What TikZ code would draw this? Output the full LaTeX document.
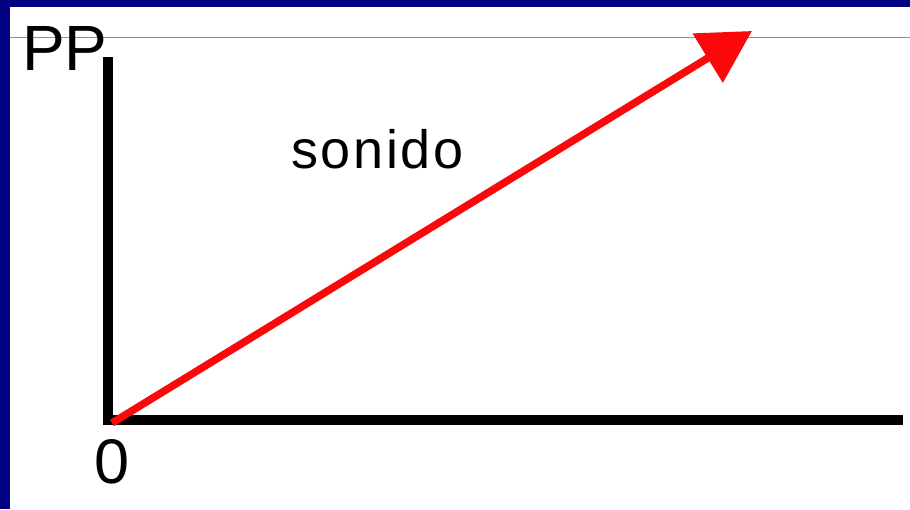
\documentclass[tikz,border=0pt]{standalone}
\usepackage{fontspec}
\setmainfont{Liberation Sans}
\usetikzlibrary{arrows.meta,positioning}
\definecolor{frameblue}{RGB}{0,0,128}
\definecolor{rulegray}{RGB}{140,140,180}
\definecolor{vecred}{RGB}{250,8,10}

\begin{document}
\begin{tikzpicture}[x=1pt, y=-1pt,
  axis/.style={line width=10pt, black, line join=miter},
  vec/.style={line width=7.5pt, vecred, -{Triangle[length=52pt,width=56pt]}},
  big/.style={inner sep=0pt, font=\fontsize{64}{64}\selectfont},
  mid/.style={inner sep=0pt, font=\fontsize{54}{54}\selectfont\addfontfeatures{LetterSpace=5}}
]
\useasboundingbox (0,0) rectangle (910,509);
\fill[white] (0,0) rectangle (910,509);
\fill[frameblue] (0,0) rectangle (910,7);
\fill[frameblue] (0,0) rectangle (10,509);
\draw[rulegray, line width=1pt] (10,37) -- (910,37);

\coordinate (ytop) at (108,57);
\coordinate (xend) at (903,419.5);
\coordinate (o) at (112,423);
\coordinate (tip) at (752,31);

\draw[axis] (ytop) |- (xend);
\draw[vec] (o) -- (tip);

\node[big, anchor=base west] (pp) at (22,70) {PP};
\node[big, anchor=base, font=\fontsize{63}{63}\selectfont] (zero) at (112,483) {0};
\node[mid, anchor=base west] (sonido) at (291,168) {sonido};

\end{tikzpicture}
\end{document}
